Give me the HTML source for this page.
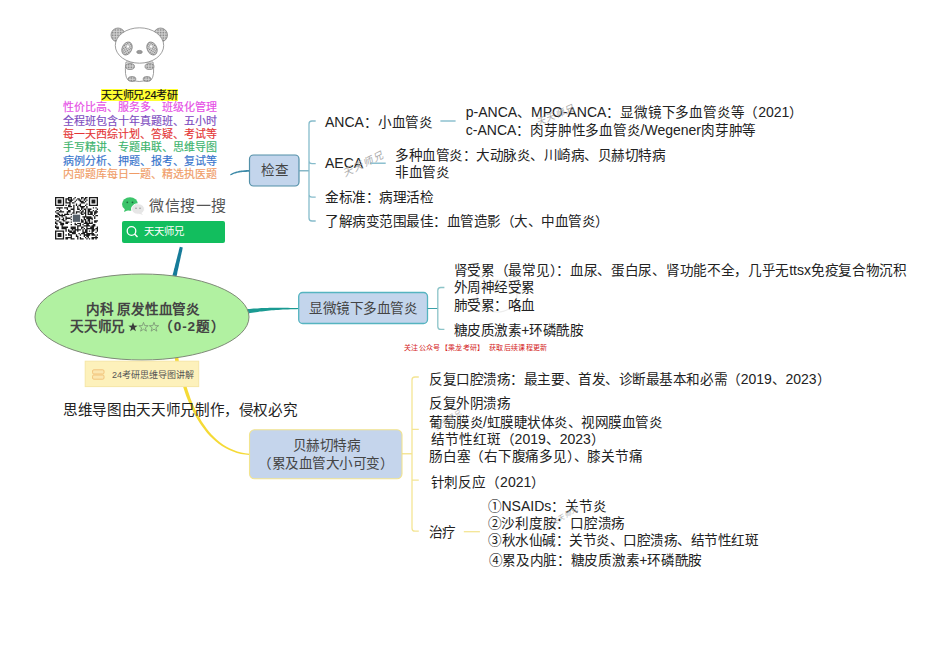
<!DOCTYPE html>
<html lang="zh-CN"><head><meta charset="utf-8">
<style>
html,body{margin:0;padding:0;background:#fff;}
body{width:950px;height:672px;position:relative;overflow:hidden;font-family:"Liberation Sans",sans-serif;color:#222;}
.t{position:absolute;white-space:nowrap;font-size:13.6px;line-height:16px;letter-spacing:-0.5px;}
svg{position:absolute;left:0;top:0;}
.l{font-size:14px;letter-spacing:0;}
.logo{position:absolute;font-size:11px;line-height:13px;white-space:nowrap;-webkit-text-stroke:0.15px currentColor;}
</style></head><body>
<svg width="950" height="672" viewBox="0 0 950 672">
 <g fill="none" stroke="#ececec" stroke-width="1.2">
  <ellipse cx="497" cy="296" rx="20" ry="16"/>
  <circle cx="480" cy="282" r="5"/>
  <circle cx="514" cy="282" r="5"/>
 </g>
  <!-- center to 检查 (dark teal) -->
  <path d="M176.0 278.5 L176.3 277.2 L176.6 276.0 L176.9 274.7 L177.2 273.4 L177.4 272.1 L177.7 270.8 L178.0 269.5 L178.3 268.2 L178.6 266.9 L178.9 265.6 L179.1 264.3 L179.4 263.0 L179.7 261.7 L180.0 260.4 L180.3 259.1 L180.6 257.8 L180.8 256.5 L181.1 255.2 L181.4 253.9 L181.7 252.6 L182.0 251.4 L182.3 250.1 L182.5 248.8 L182.8 247.6 L179.8 246.8 L179.5 248.1 L179.1 249.3 L178.8 250.6 L178.5 251.9 L178.2 253.2 L177.8 254.4 L177.5 255.7 L177.2 257.0 L176.9 258.3 L176.5 259.6 L176.2 260.9 L175.9 262.2 L175.5 263.5 L175.2 264.8 L174.9 266.1 L174.6 267.4 L174.2 268.6 L173.9 269.9 L173.6 271.2 L173.3 272.5 L172.9 273.7 L172.6 275.0 L172.3 276.3 L172.0 277.5Z" fill="#167b99"/>
  <path d="M230.7 175.5 L231.3 175.1 L231.9 174.9 L232.5 174.6 L233.0 174.3 L233.6 174.1 L234.2 173.8 L234.9 173.6 L235.5 173.4 L236.2 173.2 L236.9 173.0 L237.6 172.8 L238.3 172.7 L239.0 172.5 L239.8 172.4 L240.6 172.3 L241.5 172.2 L242.3 172.1 L243.2 172.0 L244.2 172.0 L245.2 171.9 L246.2 171.9 L247.2 171.8 L248.4 171.8 L249.5 171.8 L249.5 170.0 L248.3 170.0 L247.2 170.1 L246.1 170.1 L245.1 170.2 L244.0 170.3 L243.1 170.4 L242.1 170.5 L241.2 170.6 L240.4 170.7 L239.5 170.8 L238.7 171.0 L237.9 171.2 L237.2 171.4 L236.5 171.5 L235.7 171.8 L235.1 172.0 L234.4 172.2 L233.7 172.5 L233.1 172.8 L232.5 173.0 L231.9 173.3 L231.3 173.7 L230.7 174.0 L230.1 174.3Z" fill="#3d8aa8"/>
  <!-- center to 显微镜 (teal) -->
  <path d="M246.3 313.7 L248.3 313.4 L250.2 313.0 L252.1 312.7 L254.0 312.4 L255.9 312.2 L257.8 311.9 L259.7 311.6 L261.7 311.4 L263.6 311.2 L265.6 310.9 L267.6 310.7 L269.6 310.5 L271.7 310.3 L273.8 310.2 L275.9 310.0 L278.2 309.9 L280.5 309.7 L282.9 309.6 L285.3 309.5 L287.9 309.4 L290.5 309.3 L293.2 309.2 L296.1 309.2 L299.0 309.1 L299.0 308.1 L296.1 308.0 L293.2 307.9 L290.5 307.9 L287.8 307.8 L285.3 307.8 L282.8 307.7 L280.4 307.7 L278.1 307.7 L275.9 307.7 L273.7 307.8 L271.5 307.8 L269.4 307.8 L267.4 307.9 L265.3 308.0 L263.3 308.0 L261.4 308.1 L259.4 308.2 L257.5 308.4 L255.5 308.5 L253.6 308.6 L251.7 308.8 L249.7 309.0 L247.7 309.1 L245.7 309.3Z" fill="#1a9a92"/>
  <!-- center to 贝赫 (yellow) -->
  <path d="M174.3 355 L178 355 L179.2 364 L175.6 364 Z" fill="#f5d830"/>
  <path d="M183.2 387.0 L184.6 391.2 L186.0 395.4 L187.6 399.5 L189.3 403.6 L191.2 407.6 L193.1 411.5 L195.1 415.4 L197.3 419.1 L199.6 422.8 L202.0 426.3 L204.5 429.6 L207.1 432.9 L209.9 435.9 L212.8 438.8 L215.9 441.5 L219.0 443.9 L222.3 446.2 L225.8 448.3 L229.3 450.0 L233.0 451.6 L236.9 452.9 L240.9 453.9 L245.0 454.6 L249.3 455.0 L249.3 453.8 L245.2 453.3 L241.2 452.5 L237.3 451.5 L233.6 450.1 L230.0 448.6 L226.6 446.7 L223.3 444.7 L220.2 442.4 L217.2 439.9 L214.3 437.3 L211.5 434.4 L208.9 431.4 L206.4 428.2 L204.0 424.8 L201.7 421.4 L199.6 417.8 L197.6 414.1 L195.6 410.3 L193.8 406.4 L192.1 402.4 L190.5 398.4 L189.1 394.3 L187.7 390.2 L186.4 386.0Z" fill="#f5da36"/>

  <!-- ellipse -->
  <ellipse cx="142" cy="317" rx="107" ry="43" fill="#b1f1a1" stroke="#7f8a78" stroke-width="1"/>

  <!-- 检查 box -->
  <rect x="249.5" y="155" width="49.5" height="31" rx="4" fill="#c3d5ec" stroke="#5390a8" stroke-width="1.2"/>
  <path d="M299 170.8 H309" stroke="#6aa6b8" stroke-width="1.2" fill="none"/>
  <path d="M315.7 121 H312 Q309 121 309 124 V218 Q309 221 312 221 H315.7 M309 161 Q309 163.6 312 163.6 H315.7 M309 194.6 Q309 197.2 312 197.2 H315.7" stroke="#86bccb" stroke-width="1.3" fill="none"/>
  <path d="M440.4 121 H455.6" stroke="#7ab6c8" stroke-width="1.3"/>
  <path d="M370 163.2 H385.7" stroke="#7ab6c8" stroke-width="1.3"/>

  <!-- 显微镜 box -->
  <rect x="298.7" y="292.5" width="128.8" height="31" rx="4" fill="#c3d5ec" stroke="#55b4c0" stroke-width="1.3"/>
  <path d="M427.5 308.5 H437.8" stroke="#3aa0a8" stroke-width="1"/>
  <path d="M444.4 287.5 H440.8 Q437.8 287.5 437.8 290.5 V326.4 Q437.8 329.4 440.8 329.4 H444.4" stroke="#8cc4c8" stroke-width="1.3" fill="none"/>

  <!-- 贝赫 box -->
  <rect x="249.5" y="429.8" width="152.5" height="49" rx="5" fill="#c5d5ec" stroke="#f2e48e" stroke-width="1.1"/>
  <path d="M402 453.8 H412" stroke="#f2df80" stroke-width="1.2"/>
  <path d="M418.8 377 H415 Q412 377 412 380 V528.2 Q412 531.2 415 531.2 H418.8 M412 429.3 H418.8 M412 480.2 H418.8" stroke="#f4e594" stroke-width="1.3" fill="none"/>
  <path d="M463.8 531.7 H479.9" stroke="#f4e594" stroke-width="1.3"/>

  <!-- label box -->
  <rect x="85.2" y="361.2" width="113.5" height="25.4" fill="#fdf1bb" stroke="#f6e6a6" stroke-width="1"/>
  <rect x="92.6" y="369.8" width="11.4" height="4.2" rx="1.2" fill="#fbe6b0" stroke="#f2c47c" stroke-width="1"/>
  <rect x="92.6" y="375" width="11.4" height="4.2" rx="1.2" fill="#fbe6b0" stroke="#f2c47c" stroke-width="1"/>


  <defs><pattern id="dots" width="1.6" height="1.6" patternUnits="userSpaceOnUse"><rect width="1.6" height="1.6" fill="#d6d6d6"/><rect width="0.9" height="0.9" fill="#7a7a7a"/></pattern></defs>
  <!-- panda -->
  <g stroke="#858585" stroke-width="0.8">
    <circle cx="118" cy="35" r="7" fill="url(#dots)"/>
    <circle cx="160.5" cy="35" r="7" fill="url(#dots)"/>
    <path d="M126 62 Q124 76 128 80 Q139 83 151 80 Q155 76 153 62 Z" fill="#fff"/>
    <ellipse cx="130" cy="66.5" rx="4.5" ry="3" fill="url(#dots)"/>
    <ellipse cx="149.5" cy="66.5" rx="4.5" ry="3" fill="url(#dots)"/>
    <ellipse cx="132" cy="79" rx="4" ry="2.5" fill="url(#dots)"/>
    <ellipse cx="147" cy="79" rx="4" ry="2.5" fill="url(#dots)"/>
    <ellipse cx="139.5" cy="45.5" rx="24.2" ry="17.7" fill="#fff"/>
    <ellipse cx="127" cy="48.5" rx="4.8" ry="6.8" fill="url(#dots)" transform="rotate(25 127 48.5)"/>
    <ellipse cx="152" cy="48.5" rx="4.8" ry="6.8" fill="url(#dots)" transform="rotate(-25 152 48.5)"/>
    <ellipse cx="139.5" cy="52" rx="2.8" ry="1.6" fill="#999"/>
  </g>
  <circle cx="128" cy="46.5" r="1.2" fill="#fff"/>
  <circle cx="151" cy="46.5" r="1.2" fill="#fff"/>
  <!-- QR -->
  <g transform="translate(55,197) scale(1.3030,1.2879)"><path d="M0 0h7v1h-7zM10 0h3v1h-3zM15 0h1v1h-1zM20 0h2v1h-2zM23 0h2v1h-2zM26 0h7v1h-7zM0 1h1v1h-1zM6 1h1v1h-1zM8 1h3v1h-3zM12 1h1v1h-1zM14 1h1v1h-1zM17 1h2v1h-2zM20 1h1v1h-1zM22 1h2v1h-2zM26 1h1v1h-1zM32 1h1v1h-1zM0 2h1v1h-1zM2 2h3v1h-3zM6 2h1v1h-1zM8 2h1v1h-1zM10 2h4v1h-4zM16 2h1v1h-1zM18 2h2v1h-2zM22 2h1v1h-1zM24 2h1v1h-1zM26 2h1v1h-1zM28 2h3v1h-3zM32 2h1v1h-1zM0 3h1v1h-1zM2 3h3v1h-3zM6 3h1v1h-1zM8 3h1v1h-1zM11 3h2v1h-2zM15 3h1v1h-1zM19 3h3v1h-3zM23 3h1v1h-1zM26 3h1v1h-1zM28 3h3v1h-3zM32 3h1v1h-1zM0 4h1v1h-1zM2 4h3v1h-3zM6 4h1v1h-1zM8 4h4v1h-4zM13 4h2v1h-2zM20 4h3v1h-3zM26 4h1v1h-1zM28 4h3v1h-3zM32 4h1v1h-1zM0 5h1v1h-1zM6 5h1v1h-1zM11 5h1v1h-1zM16 5h1v1h-1zM19 5h1v1h-1zM24 5h1v1h-1zM26 5h1v1h-1zM32 5h1v1h-1zM0 6h7v1h-7zM8 6h1v1h-1zM10 6h2v1h-2zM14 6h1v1h-1zM16 6h1v1h-1zM18 6h2v1h-2zM23 6h1v1h-1zM26 6h7v1h-7zM10 7h3v1h-3zM14 7h1v1h-1zM17 7h1v1h-1zM19 7h4v1h-4zM24 7h1v1h-1zM1 8h5v1h-5zM7 8h3v1h-3zM14 8h1v1h-1zM17 8h1v1h-1zM20 8h2v1h-2zM24 8h1v1h-1zM29 8h1v1h-1zM31 8h1v1h-1zM3 9h1v1h-1zM9 9h1v1h-1zM12 9h3v1h-3zM17 9h2v1h-2zM20 9h1v1h-1zM22 9h2v1h-2zM25 9h3v1h-3zM32 9h1v1h-1zM1 10h2v1h-2zM4 10h1v1h-1zM10 10h2v1h-2zM14 10h1v1h-1zM19 10h1v1h-1zM21 10h1v1h-1zM23 10h1v1h-1zM25 10h2v1h-2zM29 10h1v1h-1zM31 10h1v1h-1zM0 11h1v1h-1zM3 11h4v1h-4zM9 11h3v1h-3zM14 11h1v1h-1zM16 11h3v1h-3zM20 11h2v1h-2zM23 11h1v1h-1zM25 11h4v1h-4zM30 11h3v1h-3zM1 12h2v1h-2zM9 12h1v1h-1zM13 12h2v1h-2zM16 12h1v1h-1zM19 12h2v1h-2zM22 12h2v1h-2zM25 12h1v1h-1zM27 12h2v1h-2zM30 12h2v1h-2zM2 13h2v1h-2zM5 13h1v1h-1zM7 13h4v1h-4zM12 13h1v1h-1zM14 13h3v1h-3zM20 13h2v1h-2zM23 13h1v1h-1zM25 13h4v1h-4zM30 13h1v1h-1zM0 14h2v1h-2zM3 14h5v1h-5zM13 14h1v1h-1zM15 14h1v1h-1zM18 14h1v1h-1zM23 14h1v1h-1zM29 14h1v1h-1zM31 14h2v1h-2zM0 15h3v1h-3zM5 15h1v1h-1zM8 15h1v1h-1zM12 15h1v1h-1zM18 15h1v1h-1zM21 15h7v1h-7zM30 15h1v1h-1zM3 16h1v1h-1zM6 16h1v1h-1zM8 16h4v1h-4zM13 16h1v1h-1zM15 16h1v1h-1zM18 16h2v1h-2zM22 16h1v1h-1zM24 16h5v1h-5zM30 16h1v1h-1zM0 17h1v1h-1zM3 17h1v1h-1zM5 17h2v1h-2zM8 17h1v1h-1zM12 17h1v1h-1zM16 17h1v1h-1zM18 17h3v1h-3zM22 17h2v1h-2zM25 17h2v1h-2zM28 17h1v1h-1zM1 18h2v1h-2zM6 18h2v1h-2zM13 18h2v1h-2zM18 18h4v1h-4zM23 18h1v1h-1zM25 18h2v1h-2zM30 18h3v1h-3zM0 19h1v1h-1zM3 19h2v1h-2zM8 19h3v1h-3zM12 19h1v1h-1zM15 19h1v1h-1zM19 19h3v1h-3zM23 19h2v1h-2zM26 19h1v1h-1zM28 19h1v1h-1zM30 19h2v1h-2zM0 20h2v1h-2zM4 20h3v1h-3zM8 20h2v1h-2zM15 20h1v1h-1zM17 20h3v1h-3zM22 20h7v1h-7zM1 21h1v1h-1zM4 21h3v1h-3zM12 21h1v1h-1zM15 21h2v1h-2zM19 21h1v1h-1zM21 21h1v1h-1zM24 21h2v1h-2zM29 21h2v1h-2zM0 22h1v1h-1zM5 22h1v1h-1zM17 22h3v1h-3zM22 22h5v1h-5zM28 22h3v1h-3zM0 23h3v1h-3zM5 23h5v1h-5zM12 23h4v1h-4zM17 23h1v1h-1zM20 23h2v1h-2zM24 23h1v1h-1zM27 23h3v1h-3zM32 23h1v1h-1zM1 24h2v1h-2zM5 24h4v1h-4zM12 24h4v1h-4zM17 24h1v1h-1zM20 24h1v1h-1zM22 24h1v1h-1zM24 24h6v1h-6zM31 24h2v1h-2zM8 25h1v1h-1zM10 25h1v1h-1zM13 25h1v1h-1zM15 25h5v1h-5zM21 25h1v1h-1zM23 25h2v1h-2zM28 25h3v1h-3zM32 25h1v1h-1zM0 26h7v1h-7zM8 26h1v1h-1zM10 26h3v1h-3zM14 26h2v1h-2zM17 26h1v1h-1zM21 26h1v1h-1zM23 26h2v1h-2zM26 26h1v1h-1zM28 26h2v1h-2zM32 26h1v1h-1zM0 27h1v1h-1zM6 27h1v1h-1zM11 27h5v1h-5zM21 27h4v1h-4zM28 27h1v1h-1zM31 27h1v1h-1zM0 28h1v1h-1zM2 28h3v1h-3zM6 28h1v1h-1zM10 28h1v1h-1zM13 28h3v1h-3zM18 28h1v1h-1zM20 28h3v1h-3zM24 28h6v1h-6zM0 29h1v1h-1zM2 29h3v1h-3zM6 29h1v1h-1zM8 29h1v1h-1zM10 29h3v1h-3zM16 29h1v1h-1zM19 29h1v1h-1zM22 29h5v1h-5zM28 29h3v1h-3zM32 29h1v1h-1zM0 30h1v1h-1zM2 30h3v1h-3zM6 30h1v1h-1zM12 30h1v1h-1zM16 30h2v1h-2zM22 30h1v1h-1zM24 30h2v1h-2zM31 30h1v1h-1zM0 31h1v1h-1zM6 31h1v1h-1zM8 31h5v1h-5zM17 31h1v1h-1zM19 31h1v1h-1zM23 31h1v1h-1zM25 31h1v1h-1zM28 31h5v1h-5zM0 32h7v1h-7zM8 32h2v1h-2zM12 32h3v1h-3zM17 32h1v1h-1zM19 32h3v1h-3zM24 32h1v1h-1zM26 32h1v1h-1zM28 32h2v1h-2zM31 32h1v1h-1z" fill="#1a1a1a"/><rect x="13" y="13" width="7" height="7" fill="#fff"/><rect x="13.7" y="13.7" width="5.6" height="5.6" fill="#56606a"/></g>
  <!-- wechat icon -->
  <ellipse cx="130" cy="204" rx="8" ry="6.8" fill="#3cc46a"/>
  <path d="M125 208.5 L124 212 L128.5 210 Z" fill="#3cc46a"/>
  <circle cx="127.3" cy="202.3" r="0.9" fill="#1d6b3c"/>
  <circle cx="132.5" cy="202.3" r="0.9" fill="#1d6b3c"/>
  <ellipse cx="138" cy="209" rx="6.5" ry="5.3" fill="#e6e6e6" stroke="#fff" stroke-width="1"/>
  <path d="M141 212.5 L143 215 L138.5 213.5 Z" fill="#e6e6e6"/>
  <circle cx="136" cy="208.3" r="0.8" fill="#999"/>
  <circle cx="140" cy="208.3" r="0.8" fill="#999"/>
  <!-- wechat -->
  <rect x="122" y="221" width="103" height="22" rx="2" fill="#12be5e"/>

  <circle cx="131.5" cy="231" r="4.3" fill="none" stroke="#fff" stroke-width="1.3"/>
  <path d="M134.6 234.1 L137.5 237" stroke="#fff" stroke-width="1.4"/>
</svg>

<!-- logo text -->
<div class="logo" style="left:100.8px;top:88.5px;background:#ffff33;padding:0;line-height:12px;letter-spacing:-0.1px;color:#111;">天天师兄24考研</div>
<div class="logo" style="left:63px;top:101px;color:#e64ee6;">性价比高、服务多、班级化管理</div>
<div class="logo" style="left:63px;top:114.5px;color:#7d4cbf;">全程班包含十年真题班、五小时</div>
<div class="logo" style="left:63px;top:128px;color:#e43636;">每一天西综计划、答疑、考试等</div>
<div class="logo" style="left:63px;top:141.3px;color:#3cb36c;">手写精讲、专题串联、思维导图</div>
<div class="logo" style="left:63px;top:154.8px;color:#3673cc;">病例分析、押题、报考、复试等</div>
<div class="logo" style="left:63px;top:167.7px;color:#f09c66;">内部题库每日一题、精选执医题</div>

<div class="t" style="left:149px;top:197px;font-size:15px;line-height:18px;color:#555;letter-spacing:0.5px;">微信搜一搜</div>
<div class="t" style="left:143.8px;top:225.2px;font-size:10.4px;line-height:14px;color:#fff;letter-spacing:0;">天天师兄</div>

<!-- center text -->
<div class="t" style="left:86px;top:301.8px;font-weight:bold;color:#444;font-size:13.6px;letter-spacing:-0.2px;">内科 原发性血管炎</div>
<div class="t" style="left:70px;top:318.8px;font-weight:bold;color:#444;font-size:13.6px;letter-spacing:-0.2px;">天天师兄</div>
<div class="t" style="left:159px;top:318.8px;font-weight:bold;color:#444;font-size:13.6px;letter-spacing:0.8px;">（0-2题）</div>
<svg width="950" height="672" style="position:absolute;left:0;top:0">
<path d="M133.00 322.30 L134.15 325.61 L137.66 325.69 L134.86 327.81 L135.88 331.16 L133.00 329.16 L130.12 331.16 L131.14 327.81 L128.34 325.69 L131.85 325.61Z" fill="#3a3a3a"/>
<path d="M143.50 322.30 L144.65 325.61 L148.16 325.69 L145.36 327.81 L146.38 331.16 L143.50 329.16 L140.62 331.16 L141.64 327.81 L138.84 325.69 L142.35 325.61Z" fill="none" stroke="#7f9a78" stroke-width="0.9"/>
<path d="M154.00 322.30 L155.15 325.61 L158.66 325.69 L155.86 327.81 L156.88 331.16 L154.00 329.16 L151.12 331.16 L152.14 327.81 L149.34 325.69 L152.85 325.61Z" fill="none" stroke="#7f9a78" stroke-width="0.9"/>
</svg>
<div class="t" style="left:112px;top:368px;font-size:9px;line-height:14px;color:#555;letter-spacing:0;">24考研思维导图讲解</div>
<div class="t" style="left:63px;top:402px;font-size:14.6px;line-height:16px;letter-spacing:-0.35px;">思维导图由天天师兄制作，侵权必究</div>

<!-- 检查 -->
<div class="t" style="left:261px;top:163px;color:#444;">检查</div>
<div class="t" style="left:325px;top:114px;letter-spacing:-0.2px;"><span class="l">ANCA</span>：小血管炎</div>
<div class="t" style="left:465.8px;top:104px;letter-spacing:-0.2px;"><span class="l">p-ANCA</span>、<span class="l">MPO-ANCA</span>：显微镜下多血管炎等（<span class="l">2021</span>）</div>
<div class="t" style="left:465.8px;top:122px;letter-spacing:-0.2px;"><span class="l">c-ANCA</span>：肉芽肿性多血管炎<span class="l">/Wegener</span>肉芽肿等</div>
<div class="t" style="left:325px;top:155px;"><span class="l">AECA</span></div>
<div class="t" style="left:395px;top:147.6px;">多种血管炎：大动脉炎、川崎病、贝赫切特病</div>
<div class="t" style="left:395px;top:165px;">非血管炎</div>
<div class="t" style="left:325px;top:190.4px;">金标准：病理活检</div>
<div class="t" style="left:325px;top:214px;">了解病变范围最佳：血管造影（大、中血管炎）</div>

<!-- 显微镜 -->
<div class="t" style="left:309px;top:301.4px;color:#444;">显微镜下多血管炎</div>
<div class="t" style="left:453.7px;top:262px;letter-spacing:-0.3px;">肾受累（最常见）：血尿、蛋白尿、肾功能不全，几乎无<span class="l">ttsx</span>免疫复合物沉积</div>
<div class="t" style="left:453.7px;top:279.8px;">外周神经受累</div>
<div class="t" style="left:453.7px;top:297.6px;">肺受累：咯血</div>
<div class="t" style="left:453.7px;top:322.3px;">糖皮质激素<span class="l">+</span>环磷酰胺</div>
<div class="t" style="left:404px;top:342.8px;font-size:7px;line-height:10px;color:#d42424;font-family:'Liberation Serif',serif;letter-spacing:0.35px;">关注公众号【乘龙考研】&nbsp;&nbsp;获取后续课程更新</div>

<!-- 贝赫 -->
<div class="t" style="left:292.6px;top:438.3px;color:#444;">贝赫切特病</div>
<div class="t" style="left:258px;top:456.2px;color:#444;">（累及血管大小可变）</div>
<div class="t" style="left:429px;top:370.9px;letter-spacing:-0.45px;">反复口腔溃疡：最主要、首发、诊断最基本和必需（<span class="l">2019</span>、<span class="l">2023</span>）</div>
<div class="t" style="left:429px;top:395.8px;">反复外阴溃疡</div>
<div class="t" style="left:429px;top:414.3px;">葡萄膜炎<span class="l">/</span>虹膜睫状体炎、视网膜血管炎</div>
<div class="t" style="left:430.6px;top:430.6px;letter-spacing:0;">结节性红斑（<span class="l">2019</span>、<span class="l">2023</span>）</div>
<div class="t" style="left:429px;top:449px;letter-spacing:-0.22px;">肠白塞（右下腹痛多见）、膝关节痛</div>
<div class="t" style="left:430.6px;top:473.8px;letter-spacing:-0.1px;">针刺反应（<span class="l">2021</span>）</div>
<div class="t" style="left:428.5px;top:524.5px;">治疗</div>
<div class="t" style="left:487.5px;top:498px;letter-spacing:0;">①<span class="l">NSAIDs</span>：关节炎</div>
<div class="t" style="left:487.5px;top:516px;letter-spacing:-0.25px;">②沙利度胺：口腔溃疡</div>
<div class="t" style="left:488px;top:533.2px;">③秋水仙碱：关节炎、口腔溃疡、结节性红斑</div>
<div class="t" style="left:488.5px;top:552px;letter-spacing:-0.3px;">④累及内脏：糖皮质激素<span class="l">+</span>环磷酰胺</div>

<!-- watermarks -->
<div class="t" style="left:344px;top:168px;font-size:10px;line-height:12px;color:#aaa;font-style:italic;letter-spacing:1px;transform:rotate(-27deg);transform-origin:left center;-webkit-text-stroke:0;font-weight:300;">天天师兄</div>
<div class="t" style="left:537px;top:118px;font-size:9px;line-height:10px;color:#a8a8a8;font-style:italic;letter-spacing:1px;transform:rotate(-23deg);transform-origin:left center;">天天师兄</div>
<div class="t" style="left:436px;top:424px;font-size:7px;line-height:10px;color:#b5b5b5;font-style:italic;letter-spacing:0.5px;transform:rotate(-35deg);transform-origin:left center;">天天师兄</div>
<div class="t" style="left:552px;top:519px;font-size:7px;line-height:10px;color:#b0b0b0;font-style:italic;letter-spacing:0.5px;transform:rotate(-30deg);transform-origin:left center;">天天师兄</div>
</body></html>
